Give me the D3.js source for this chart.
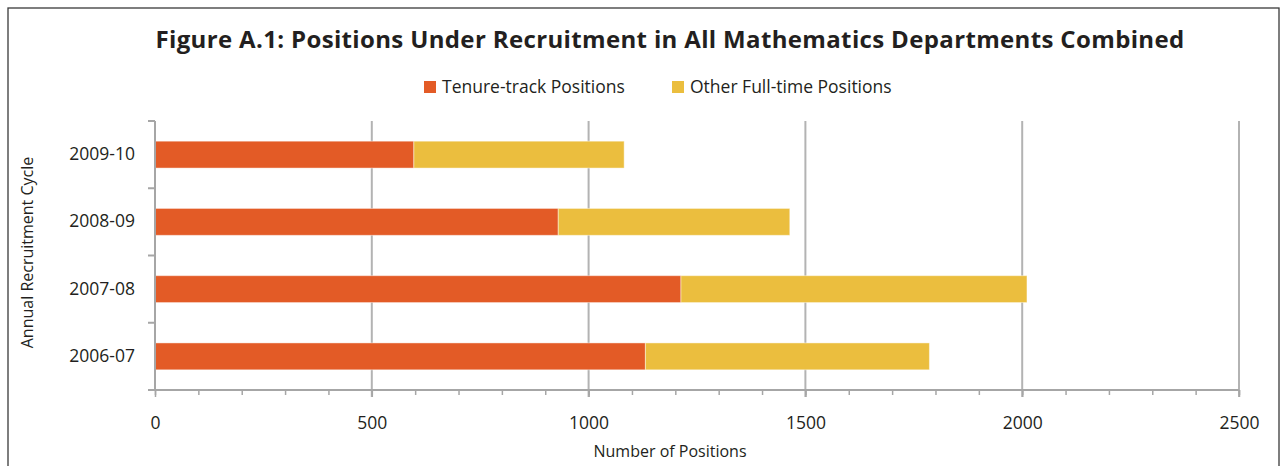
<!DOCTYPE html>
<html>
<head>
<meta charset="utf-8">
<script src="https://cdn.jsdelivr.net/npm/d3@7"></script>
<style>
  body { margin: 0; background: #fff; }
  text { font-family: "Open Sans", sans-serif; fill: #231f20; }
</style>
</head>
<body>
<div id="chart"></div>
<script>
// Data
var cycles = ["2009-10", "2008-09", "2007-08", "2006-07"];
var tenureTrack = [597, 930, 1213, 1131];
var otherFullTime = [485, 534, 798, 655];
var seriesNames = ["Tenure-track Positions", "Other Full-time Positions"];
var xTicks = [0, 500, 1000, 1500, 2000, 2500];

var svgWidth = 1281;
var svgHeight = 466;
var colors = ["#e35b26", "#ebbe3e"];

var margin = { top: 121, left: 155, right: 42, bottom: 76 };
var chartWidth = svgWidth - margin.left - margin.right;
var chartHeight = svgHeight - margin.top - margin.bottom;

var svg = d3.select("#chart").append("svg")
    .attr("width", svgWidth)
    .attr("height", svgHeight);

// Frame
svg.append("rect")
    .attr("x", 8).attr("y", 8)
    .attr("width", 1271).attr("height", 470)
    .attr("fill", "none")
    .attr("stroke", "#3a3a3a")
    .attr("stroke-width", 1.3);

// Title
svg.append("text")
    .attr("x", 670).attr("y", 48)
    .attr("text-anchor", "middle")
    .style("font-size", "24px")
    .style("font-weight", "bold")
    .style("letter-spacing", "0.35px")
    .text("Figure A.1: Positions Under Recruitment in All Mathematics Departments Combined");

// Legend
var legendX = [424, 672];
seriesNames.forEach(function (name, i) {
    svg.append("rect")
        .attr("x", legendX[i]).attr("y", 81)
        .attr("width", 12).attr("height", 12)
        .attr("fill", colors[i]);
    svg.append("text")
        .attr("x", legendX[i] + 18).attr("y", 93)
        .style("font-size", "17.5px")
        .text(name);
});

var chartGroup = svg.append("g")
    .attr("transform", `translate(${margin.left}, ${margin.top})`);

// Scales
var xScale = d3.scaleLinear()
    .domain([0, 2500])
    .range([0, chartWidth]);

var yScale = d3.scaleBand()
    .domain(cycles)
    .range([0, chartHeight])
    .paddingInner(0.6)
    .paddingOuter(0.3);

// Gridlines
chartGroup.append("g")
    .selectAll("line")
    .data(xTicks.slice(1))
    .enter()
    .append("line")
    .attr("x1", d => xScale(d)).attr("x2", d => xScale(d))
    .attr("y1", 0).attr("y2", chartHeight + 7)
    .attr("stroke", "#b3b3b3")
    .attr("stroke-width", 2);

// Stacked bars
var stackData = cycles.map(function (c, i) {
    return { cycle: c, tenure: tenureTrack[i], other: otherFullTime[i] };
});
var stack = d3.stack().keys(["tenure", "other"])(stackData);

chartGroup.selectAll(".series")
    .data(stack)
    .enter()
    .append("g")
    .attr("fill", (d, i) => colors[i])
    .selectAll("rect")
    .data(d => d)
    .enter()
    .append("rect")
    .attr("x", d => xScale(d[0]))
    .attr("y", d => yScale(d.data.cycle))
    .attr("width", d => xScale(d[1]) - xScale(d[0]))
    .attr("height", yScale.bandwidth())
    .attr("stroke", "rgba(255,255,255,0.45)")
    .attr("stroke-width", 1);

// X axis: minor ticks
var minorAxis = d3.axisBottom(xScale)
    .tickValues(d3.range(0, 2501, 100))
    .tickSize(5)
    .tickFormat("");
var minorG = chartGroup.append("g")
    .attr("transform", `translate(0, ${chartHeight})`)
    .call(minorAxis);

// X axis: major ticks and labels
var bottomAxis = d3.axisBottom(xScale)
    .tickValues(xTicks)
    .tickSize(7)
    .tickPadding(20)
    .tickFormat(d3.format("d"));
var xAxisG = chartGroup.append("g")
    .attr("transform", `translate(0, ${chartHeight})`)
    .call(bottomAxis);

// Y axis
var leftAxis = d3.axisLeft(yScale)
    .tickSize(0)
    .tickPadding(20);
var yAxisG = chartGroup.append("g").call(leftAxis);

// Y category boundary ticks
chartGroup.append("g")
    .selectAll("line")
    .data(d3.range(cycles.length + 1))
    .enter()
    .append("line")
    .attr("x1", -7).attr("x2", 0)
    .attr("y1", d => d * yScale.step()).attr("y2", d => d * yScale.step())
    .attr("stroke", "#a6a6a6")
    .attr("stroke-width", 2);

[minorG, xAxisG, yAxisG].forEach(function (g) {
    g.selectAll(".domain").attr("stroke", "#a6a6a6").attr("stroke-width", 2);
    g.selectAll(".tick line").attr("stroke", "#a6a6a6").attr("stroke-width", 1.5);
    g.selectAll(".tick text")
        .style("font-size", "17.5px")
        .style("fill", "#231f20")
        .style("font-family", "'Open Sans', sans-serif");
});
yAxisG.select(".domain").attr("d", `M0,0V${chartHeight}`);
minorG.select(".domain").attr("d", `M0,0H${chartWidth}`);
xAxisG.select(".domain").attr("d", `M0,0H${chartWidth}`);

// Axis labels
chartGroup.append("text")
    .attr("transform", "rotate(-90)")
    .attr("x", 0 - (chartHeight / 2) + 3)
    .attr("y", 33 - margin.left)
    .attr("text-anchor", "middle")
    .style("font-size", "16px")
    .text("Annual Recruitment Cycle");

chartGroup.append("text")
    .attr("x", chartWidth / 2 - 27)
    .attr("y", chartHeight + 67)
    .attr("text-anchor", "middle")
    .style("font-size", "16px")
    .text("Number of Positions");
</script>
</body>
</html>
